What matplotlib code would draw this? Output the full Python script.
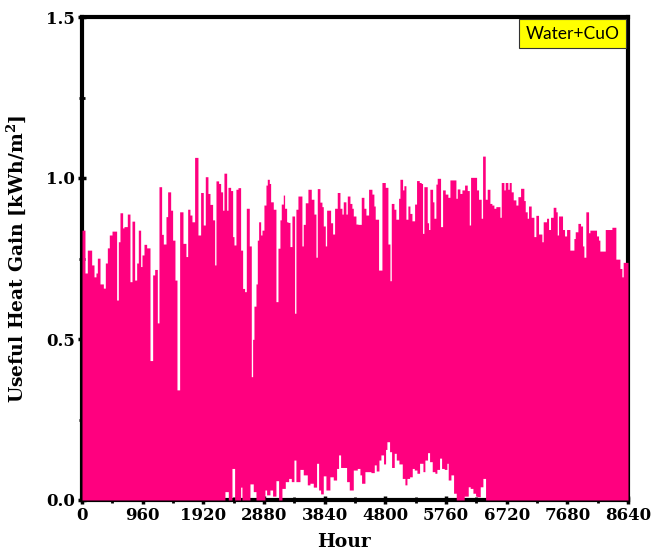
import numpy as np
import matplotlib
matplotlib.use('Agg')
import matplotlib.pyplot as plt

## daily peak envelope (hour where the level starts, value kWh/m2)
up_h = [0, 47, 84, 153, 190, 221, 243, 285, 338, 369, 401, 432, 475, 548, 575, 601, 643, 664, 717, 759,
        791, 833, 865, 891, 928, 949, 981, 1023, 1076, 1118, 1150, 1192, 1218, 1260, 1287, 1329, 1355, 1403,
        1434, 1471, 1503, 1545, 1598, 1645, 1672, 1708,
        1740, 1782, 1835, 1877, 1919, 1951, 1993, 2025, 2067, 2099, 2120, 2162, 2194, 2225, 2246, 2289, 2310,
        2352, 2384, 2405, 2436, 2468, 2510, 2542, 2573, 2600, 2647, 2679, 2700, 2721, 2753, 2774, 2795, 2827,
        2848, 2879, 2911, 2932, 2964, 2985, 3027, 3069, 3101, 3132, 3153, 3185, 3206, 3238, 3259, 3291, 3322,
        3364, 3385, 3417,
        3480, 3501, 3533, 3575, 3628, 3670, 3702, 3723, 3765, 3797, 3818, 3850, 3871, 3934, 3966, 3997, 4039,
        4082, 4113, 4134, 4176, 4198, 4240, 4271, 4293, 4335, 4366, 4419, 4461, 4493, 4535, 4588, 4619, 4640,
        4693, 4746, 4799, 4841, 4873, 4894, 4936, 4967, 5010, 5031, 5073, 5094, 5126,
        5157, 5189, 5221, 5263, 5294, 5337, 5368, 5389, 5410, 5463, 5484, 5505, 5548, 5569, 5600, 5621, 5674,
        5706, 5748, 5790, 5822, 5917, 5938, 5980, 6012, 6054, 6096, 6128, 6149, 6244, 6275, 6317, 6339, 6381,
        6412, 6455, 6486, 6518, 6549, 6613, 6634, 6676, 6697, 6739, 6760, 6792, 6824,
        6866, 6898, 6940, 6992, 7014, 7045, 7066, 7108, 7151, 7182, 7224, 7277, 7298, 7351, 7383, 7414, 7456,
        7499, 7520, 7541, 7604, 7636, 7668, 7720, 7784, 7805, 7847, 7889, 7921, 7942, 7973, 8016, 8037, 8142,
        8174, 8195, 8280, 8385, 8448, 8512, 8543, 8564, 8640]
up_v = [0.838, 0.705, 0.776, 0.730, 0.693, 0.705, 0.751, 0.671, 0.658, 0.736, 0.783, 0.823, 0.835, 0.621,
        0.802, 0.892, 0.845, 0.849, 0.888, 0.678, 0.866, 0.683, 0.736, 0.838, 0.725, 0.761, 0.794, 0.783,
        0.433, 0.699, 0.716, 0.550, 0.973, 0.825, 0.795, 0.880, 0.957, 0.900, 0.807, 0.683, 0.342, 0.895,
        0.797, 0.756, 0.903, 0.885,
        0.864, 1.064, 0.823, 0.955, 0.854, 1.004, 0.952, 0.918, 0.870, 0.730, 0.991, 0.983, 0.957, 0.900,
        1.015, 0.900, 0.971, 0.961, 0.818, 0.792, 0.965, 0.970, 0.776, 0.657, 0.647, 0.906, 0.789, 0.383,
        0.499, 0.602, 0.671, 0.807, 0.864, 0.823, 0.838, 0.916, 0.978, 0.996, 0.983, 0.926, 0.903, 0.616,
        0.782, 0.870, 0.919, 0.947, 0.906, 0.864, 0.862, 0.787, 0.882, 0.580, 0.903, 0.944,
        0.789, 0.856, 0.923, 0.965, 0.934, 0.888, 0.754, 0.967, 0.925, 0.911, 0.851, 0.789, 0.900, 0.861,
        0.826, 0.906, 0.955, 0.906, 0.888, 0.926, 0.888, 0.944, 0.921, 0.906, 0.882, 0.857, 0.856, 0.940,
        0.906, 0.885, 0.965, 0.950, 0.913, 0.872, 0.714, 0.986, 0.971, 0.795, 0.681, 0.921, 0.903, 0.872,
        0.937, 0.996, 0.963, 0.976, 0.872,
        0.913, 0.890, 0.867, 0.919, 0.992, 0.986, 0.983, 0.828, 0.973, 0.861, 0.840, 0.965, 0.926, 0.875,
        0.981, 0.999, 0.849, 0.963, 0.950, 0.940, 0.994, 0.937, 0.966, 0.952, 0.963, 0.978, 0.961, 0.854,
        1.002, 0.963, 0.934, 0.875, 1.068, 0.934, 0.965, 0.921, 0.916, 0.906, 0.911, 0.878, 0.986, 0.963,
        0.986, 0.965, 0.986, 0.957, 0.932,
        0.916, 0.942, 0.968, 0.930, 0.895, 0.875, 0.913, 0.878, 0.818, 0.884, 0.826, 0.802, 0.864, 0.875,
        0.840, 0.878, 0.909, 0.895, 0.823, 0.882, 0.840, 0.820, 0.840, 0.776, 0.812, 0.833, 0.859, 0.851,
        0.789, 0.754, 0.895, 0.830, 0.838, 0.820, 0.807, 0.773, 0.840, 0.847, 0.748, 0.719, 0.693, 0.738,
        0.738]

## night-time minimum envelope
lo_h = [0, 2262, 2315, 2373, 2415, 2510, 2531, 2658, 2710, 2753, 2895, 2921, 2974, 3016, 3069, 3111, 3164,
        3217, 3270, 3312, 3354, 3385, 3449, 3501, 3565, 3607, 3660, 3712, 3744, 3776, 3818, 3860, 3923, 3976,
        4029, 4060, 4092, 4187, 4229, 4293, 4356, 4398, 4424, 4477, 4572, 4625, 4656, 4699, 4730, 4772, 4804,
        4825, 4867, 4899, 4941, 4973, 5015, 5068, 5110, 5142, 5184, 5226, 5258, 5300, 5342, 5395, 5426, 5468,
        5500, 5542, 5584, 5616, 5658, 5690, 5732, 5774, 5795, 5838, 5880, 5922, 6048, 6112, 6143, 6186, 6228,
        6249, 6302, 6344, 6386, 8640]
lo_v = [0, 0.026, 0, 0.098, 0, 0.040, 0, 0.050, 0.026, 0, 0.031, 0.016, 0.031, 0.012, 0.060, 0, 0.036,
        0.057, 0.067, 0.057, 0.124, 0.057, 0.095, 0.078, 0.047, 0.052, 0.040, 0.114, 0.031, 0.019, 0.075,
        0.031, 0.072, 0.062, 0.098, 0.140, 0.101, 0.057, 0.031, 0.093, 0.098, 0.078, 0.052, 0.088, 0.085,
        0.109, 0.090, 0.124, 0.140, 0.112, 0.157, 0.181, 0.150, 0.101, 0.145, 0.124, 0.112, 0.067, 0.047,
        0.067, 0.072, 0.098, 0.093, 0.083, 0.114, 0.088, 0.124, 0.147, 0.119, 0.088, 0.083, 0.095, 0.130,
        0.098, 0.095, 0.114, 0.062, 0.078, 0.021, 0, 0.012, 0.041, 0.036, 0.021, 0.012, 0.010, 0.041, 0.067,
        0, 0]

x_ticks = list(range(0, 8641, 960))
y_ticks = [0.0, 0.5, 1.0, 1.5]

## put both envelopes on one set of hours (step lookup)
up_h = np.array(up_h); up_v = np.array(up_v)
lo_h = np.array(lo_h); lo_v = np.array(lo_v)
hh = np.union1d(up_h, lo_h)
top = up_v[np.searchsorted(up_h, hh, side='right') - 1]
bot = lo_v[np.searchsorted(lo_h, hh, side='right') - 1]

plt.rcParams['mathtext.fontset'] = 'dejavuserif'

fig = plt.figure(figsize=(6.65, 5.58), dpi=100)
ax = fig.add_axes([82/665, 58/558, 546/665, 483/558])

ax.fill_between(hh, bot, top, step='post', color='#FF007F', linewidth=0, zorder=3)

ax.set_xlim(0, 8640)
ax.set_ylim(0, 1.5)
ax.set_xticks(x_ticks)
ax.set_xticks(range(480, 8640, 960), minor=True)
ax.set_yticks(y_ticks)
ax.set_yticks([0.25, 0.75, 1.25], minor=True)
ax.set_yticklabels(['%.1f' % v for v in y_ticks])

for s in ax.spines.values():
    s.set_linewidth(3)
ax.tick_params(which='major', direction='inout', length=6, width=2.5, top=False, right=False,
               labelsize=12, pad=2)
ax.tick_params(which='minor', direction='inout', length=4, width=2, top=False, right=False)
for lab in ax.get_xticklabels() + ax.get_yticklabels():
    lab.set_fontfamily('DejaVu Serif')
    lab.set_fontweight('bold')

ax.set_xlabel('Hour', fontfamily='DejaVu Serif', fontweight='bold', fontsize=13.5)
ax.xaxis.set_label_coords(0.479, -0.068)
ax.set_ylabel(r'Useful Heat Gain [kWh/m$^{\mathbf{2}}$]', fontfamily='DejaVu Serif',
              fontweight='bold', fontsize=13.5)
ax.yaxis.set_label_coords(-0.098, 0.5)

ax.text(0.984, 0.982, 'Water+CuO', transform=ax.transAxes, ha='right', va='top',
        fontfamily='Lato', fontsize=12.5, zorder=5,
        bbox=dict(boxstyle='square,pad=0.38', fc='yellow', ec='#333333', lw=0.8))

fig.savefig('out.png', dpi=100)
